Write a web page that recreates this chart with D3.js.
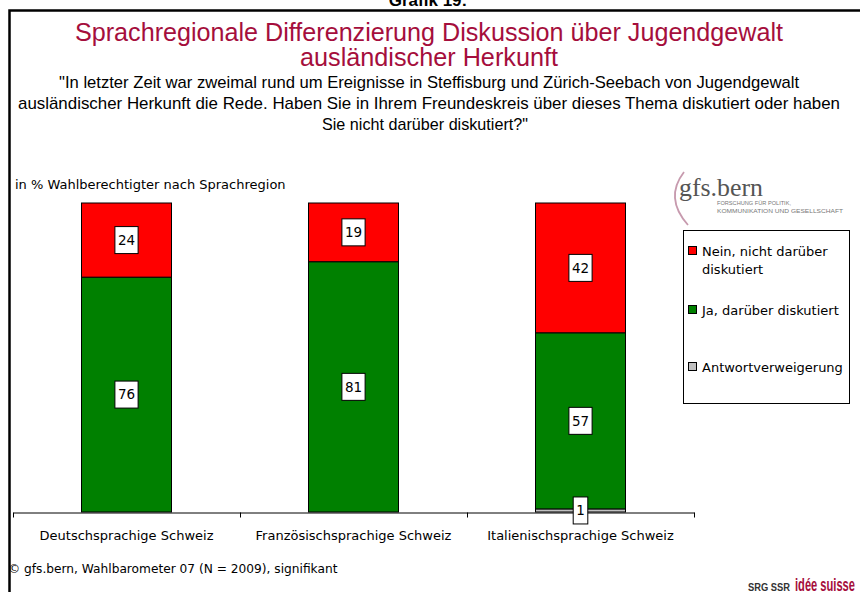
<!DOCTYPE html>
<html>
<head>
<meta charset="utf-8">
<script src="https://cdn.jsdelivr.net/npm/d3@7"></script>
<style>
  body { margin: 0; background: #fff; }
  svg { display: block; }
</style>
</head>
<body>
<script>
// data
var regions = ["Deutschsprachige Schweiz", "Französischsprachige Schweiz", "Italienischsprachige Schweiz"];
var nein = [24, 19, 42];
var ja = [76, 81, 57];
var verweigert = [0, 0, 1];
var seriesNames = ["Nein, nicht darüber diskutiert", "Ja, darüber diskutiert", "Antwortverweigerung"];
var seriesColors = ["#ff0000", "#008000", "#c0c0c0"];

var w = 860, h = 592;
var narrow = "'Liberation Sans', Arial, sans-serif";
var plain = "'DejaVu Sans', Tahoma, Verdana, sans-serif";

var svg = d3.select("body").append("svg")
    .attr("width", w)
    .attr("height", h);

// frame
svg.append("text")
    .attr("x", 428).attr("y", 6)
    .attr("text-anchor", "middle")
    .attr("font-family", "'Liberation Sans', Arial, sans-serif")
    .attr("font-weight", "bold")
    .attr("font-size", "17px")
    .text("Grafik 19:");
svg.append("rect")
    .attr("x", 9.5).attr("y", 10.5)
    .attr("width", 900).attr("height", 700)
    .attr("fill", "none")
    .attr("stroke", "#000")
    .attr("stroke-width", 2.5);

// titles (narrow look: squeeze glyphs to the widths seen in the picture)
var titleLines = ["Sprachregionale Differenzierung Diskussion über Jugendgewalt", "ausländischer Herkunft"];
var titleWidths = [708, 258];
svg.selectAll("text.title")
    .data(titleLines)
    .enter().append("text")
    .attr("class", "title")
    .attr("x", 429)
    .attr("y", function(d, i) { return 41 + i * 25; })
    .attr("text-anchor", "middle")
    .attr("font-family", narrow)
    .attr("font-size", "25px")
    .attr("fill", "#a50e3c")
    .attr("textLength", function(d, i) { return titleWidths[i]; })
    .attr("lengthAdjust", "spacingAndGlyphs")
    .text(function(d) { return d; });

var questionLines = [
    "\"In letzter Zeit war zweimal rund um Ereignisse in Steffisburg und Zürich-Seebach von Jugendgewalt",
    "ausländischer Herkunft die Rede. Haben Sie in Ihrem Freundeskreis über dieses Thema diskutiert oder haben",
    "Sie nicht darüber diskutiert?\""
];
var questionWidths = [740, 822, 206];
svg.selectAll("text.question")
    .data(questionLines)
    .enter().append("text")
    .attr("class", "question")
    .attr("x", function(d, i) { return i === 2 ? 425 : 429; })
    .attr("y", function(d, i) { return 88 + i * 21; })
    .attr("text-anchor", "middle")
    .attr("font-family", narrow)
    .attr("font-size", "17px")
    .attr("fill", "#000")
    .attr("textLength", function(d, i) { return questionWidths[i]; })
    .attr("lengthAdjust", "spacingAndGlyphs")
    .text(function(d) { return d; });

svg.append("text")
    .attr("x", 15).attr("y", 189)
    .attr("font-family", plain)
    .attr("font-size", "13px")
    .text("in % Wahlberechtigter nach Sprachregion");

// scales
var x = d3.scaleBand().domain(regions).range([13, 694]).paddingInner(0).paddingOuter(0);
var y = d3.scaleLinear().domain([0, 100]).range([512, 203]);
var barW = 90;

var table = regions.map(function(r, i) {
    return { region: r, verweigert: verweigert[i], ja: ja[i], nein: nein[i] };
});
var keys = ["verweigert", "ja", "nein"];
var colorOf = { nein: seriesColors[0], ja: seriesColors[1], verweigert: seriesColors[2] };
var stacked = d3.stack().keys(keys)(table);

var layers = svg.selectAll("g.layer")
    .data(stacked)
    .enter().append("g")
    .attr("class", "layer")
    .attr("fill", function(d) { return colorOf[d.key]; });

layers.selectAll("rect")
    .data(function(d) { return d; })
    .enter().append("rect")
    .attr("x", function(d) { return x(d.data.region) + x.bandwidth() / 2 - barW / 2; })
    .attr("y", function(d) { return y(d[1]); })
    .attr("width", barW)
    .attr("height", function(d) { return y(d[0]) - y(d[1]); })
    .attr("stroke", "#000")
    .attr("stroke-width", 1);

// axis with ticks on category boundaries
var tickScale = d3.scaleLinear().domain([0, regions.length]).range([13, 694]);
var axis = svg.append("g")
    .attr("transform", "translate(0,512.5)")
    .call(d3.axisBottom(tickScale).tickValues([0, 1, 2, 3]).tickFormat("").tickSize(5).tickSizeOuter(0));
axis.select(".domain").attr("stroke", "#000");
axis.selectAll(".tick line").attr("stroke", "#000");

svg.selectAll("text.cat")
    .data(regions)
    .enter().append("text")
    .attr("class", "cat")
    .attr("x", function(d) { return x(d) + x.bandwidth() / 2; })
    .attr("y", 540)
    .attr("text-anchor", "middle")
    .attr("font-family", plain)
    .attr("font-size", "13px")
    .text(function(d) { return d; });

// value labels
var labelData = [];
stacked.forEach(function(layer) {
    layer.forEach(function(d) {
        var v = d[1] - d[0];
        if (v > 0) labelData.push({ region: d.data.region, v: v, mid: (d[0] + d[1]) / 2 });
    });
});
var labels = svg.selectAll("g.vlabel")
    .data(labelData)
    .enter().append("g")
    .attr("class", "vlabel")
    .attr("transform", function(d) {
        return "translate(" + (x(d.region) + x.bandwidth() / 2) + "," + y(d.mid) + ")";
    });
labels.append("rect")
    .attr("x", function(d) { return -(String(d.v).length * 8.6 + 6) / 2; })
    .attr("y", -13.5)
    .attr("width", function(d) { return String(d.v).length * 8.6 + 6; })
    .attr("height", 27)
    .attr("fill", "#fff")
    .attr("stroke", "#000")
    .attr("stroke-width", 1);
labels.append("text")
    .attr("text-anchor", "middle")
    .attr("dy", "0.36em")
    .attr("font-family", plain)
    .attr("font-size", "13.5px")
    .text(function(d) { return d.v; });

// legend
var legend = svg.append("g");
legend.append("rect")
    .attr("x", 683.5).attr("y", 230.5)
    .attr("width", 166).attr("height", 173)
    .attr("fill", "#fff")
    .attr("stroke", "#000")
    .attr("stroke-width", 1);
var legendItems = [
    { lines: ["Nein, nicht darüber", "diskutiert"], y: 251, color: seriesColors[0] },
    { lines: ["Ja, darüber diskutiert"], y: 310, color: seriesColors[1] },
    { lines: ["Antwortverweigerung"], y: 367, color: seriesColors[2] }
];
var li = legend.selectAll("g.item")
    .data(legendItems)
    .enter().append("g")
    .attr("class", "item")
    .attr("transform", function(d) { return "translate(688," + d.y + ")"; });
li.append("rect")
    .attr("x", 0.5).attr("y", -4.5)
    .attr("width", 8).attr("height", 8)
    .attr("fill", function(d) { return d.color; })
    .attr("stroke", "#000")
    .attr("stroke-width", 1);
li.selectAll("text")
    .data(function(d) { return d.lines; })
    .enter().append("text")
    .attr("x", 14)
    .attr("y", function(d, i) { return i * 18; })
    .attr("dy", "0.36em")
    .attr("font-family", plain)
    .attr("font-size", "13px")
    .text(function(d) { return d; });

// gfs.bern logo
svg.append("path")
    .attr("d", "M684,172 Q664,198 688,225")
    .attr("fill", "none")
    .attr("stroke", "#c79aae")
    .attr("stroke-width", 1.8);
svg.append("text")
    .attr("x", 679).attr("y", 196)
    .attr("font-family", "'Liberation Serif', 'DejaVu Serif', serif")
    .attr("font-size", "26px")
    .attr("fill", "#555")
    .attr("textLength", 84)
    .attr("lengthAdjust", "spacingAndGlyphs")
    .text("gfs.bern");
var subWidths = [74, 126];
svg.selectAll("text.logosub")
    .data(["FORSCHUNG FÜR POLITIK,", "KOMMUNIKATION UND GESELLSCHAFT"])
    .enter().append("text")
    .attr("class", "logosub")
    .attr("x", 717)
    .attr("y", function(d, i) { return 205 + i * 8; })
    .attr("font-family", "'Liberation Sans', Arial, sans-serif")
    .attr("font-size", "6px")
    .attr("fill", "#777")
    .attr("textLength", function(d, i) { return subWidths[i]; })
    .attr("lengthAdjust", "spacingAndGlyphs")
    .text(function(d) { return d; });

// footer
svg.append("text")
    .attr("x", 8).attr("y", 573)
    .attr("font-family", plain)
    .attr("font-size", "12.2px")
    .text("© gfs.bern, Wahlbarometer 07 (N = 2009), signifikant");

svg.append("text")
    .attr("x", 748).attr("y", 591)
    .attr("font-family", "'Liberation Sans', Arial, sans-serif")
    .attr("font-weight", "bold")
    .attr("font-size", "11px")
    .attr("fill", "#333")
    .attr("textLength", 42)
    .attr("lengthAdjust", "spacingAndGlyphs")
    .text("SRG SSR");
svg.append("text")
    .attr("x", 795).attr("y", 591)
    .attr("font-family", "'Liberation Sans', Arial, sans-serif")
    .attr("font-weight", "bold")
    .attr("font-size", "18px")
    .attr("fill", "#a50e3c")
    .attr("textLength", 60)
    .attr("lengthAdjust", "spacingAndGlyphs")
    .text("idée suisse");
</script>
</body>
</html>
